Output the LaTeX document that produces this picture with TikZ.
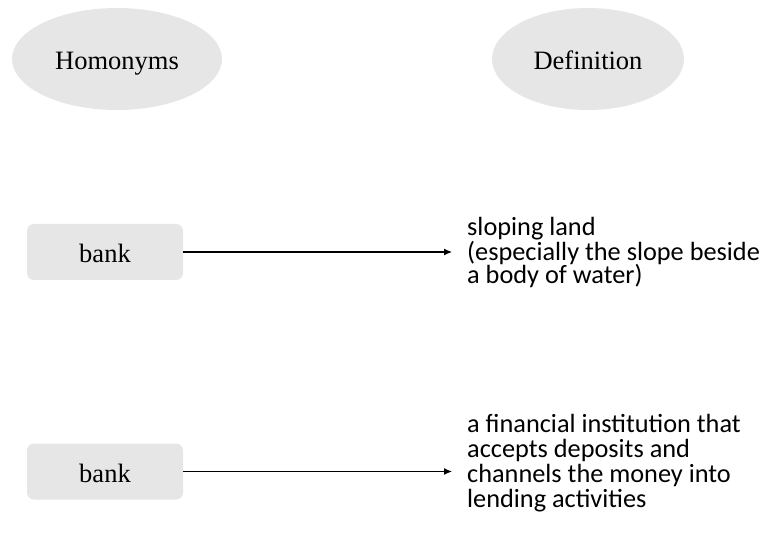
\documentclass[tikz,border=0pt]{standalone}
\usepackage{fontspec}
\setmainfont{Liberation Serif}
\newfontfamily\defnfont{Carlito}
\usetikzlibrary{arrows.meta,shapes.geometric}
\definecolor{shade}{RGB}{230,230,230}
\begin{document}
\begin{tikzpicture}[x=1pt,y=-1pt,
  header/.style={ellipse, fill=shade, inner sep=0pt, minimum height=102pt,
    text height=22pt, text depth=0pt, font=\fontsize{26.5}{30}\selectfont},
  wordbox/.style={rectangle, rounded corners=7pt, fill=shade, inner sep=0pt,
    minimum width=156pt, minimum height=56pt, text height=22pt, text depth=0pt,
    font=\fontsize{26.5}{30}\selectfont},
  meaning/.style={align=left, inner sep=0pt, anchor=north west,
    font=\defnfont\fontsize{26.3}{#1}\selectfont},
  meaning/.default=24.3,
  link/.style={-{Latex[length=8pt,width=7pt]}, line width=1.1pt, shorten >=15pt}]
  \useasboundingbox (0,0) rectangle (766,540);

  % column headers
  \node[header, minimum width=210pt] (hom) at (117,59) {Homonyms};
  \node[header, minimum width=192pt] (def) at (588,59) {Definition};

  % first sense
  \node[wordbox] (w1) at (105,252) {bank};
  \node[meaning=23.7] (d1) at (467,217) {sloping land\\(especially the slope beside\\a body of water)};
  \draw[link] (w1.east) -- (w1.east -| d1.west);

  % second sense
  \node[wordbox] (w2) at (105,471.5) {bank};
  \node[meaning=25] (d2) at (467,414) {a financial institution that\\accepts deposits and\\channels the money into\\lending activities};
  \draw[link] (w2.east) -- (w2.east -| d2.west);
\end{tikzpicture}
\end{document}
